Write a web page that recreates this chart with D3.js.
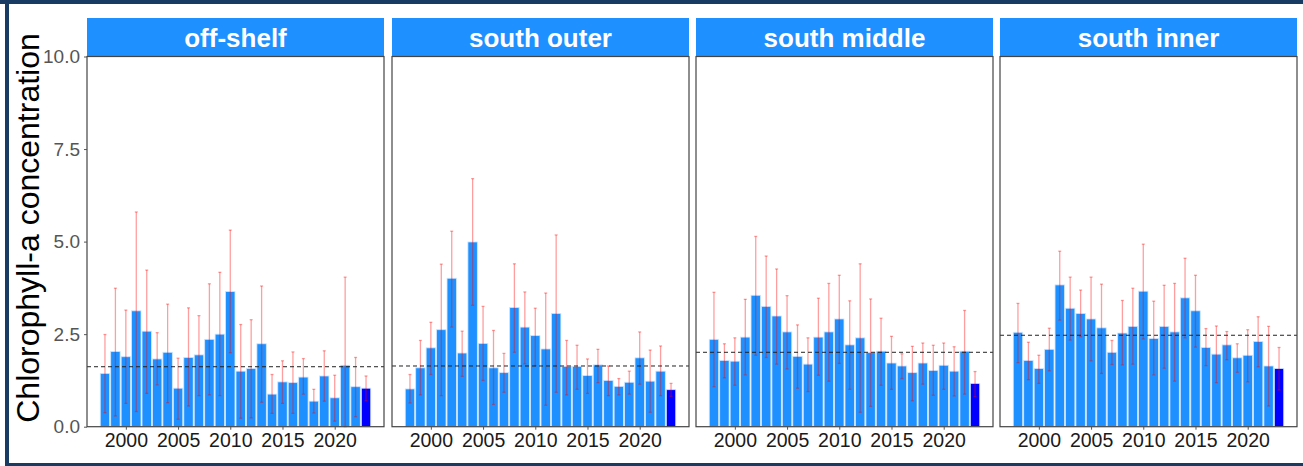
<!DOCTYPE html>
<html>
<head>
<meta charset="utf-8">
<script src="https://cdn.jsdelivr.net/npm/d3@7"></script>
<style>
  body { margin: 0; background: #fff; }
  svg { display: block; font-family: "Liberation Sans", Arial, sans-serif; }
</style>
</head>
<body>
<svg id="chart" width="1303" height="466"></svg>
<script>
// data
const years = d3.range(1998, 2024);
const regions = ["off-shelf", "south outer", "south middle", "south inner"];

const offShelf    = [1.44, 2.03, 1.89, 3.13, 2.58, 1.83, 2.01, 1.04, 1.87, 1.94, 2.36, 2.50, 3.65, 1.50, 1.57, 2.24, 0.88, 1.21, 1.19, 1.34, 0.69, 1.37, 0.78, 1.66, 1.08, 1.04];
const offShelfHi  = [2.49, 3.74, 3.15, 5.80, 4.23, 2.54, 3.31, 1.85, 3.21, 3.00, 3.86, 4.17, 5.31, 2.76, 2.89, 3.80, 1.41, 1.78, 2.02, 1.84, 1.01, 2.05, 1.39, 4.04, 1.87, 1.37];
const offShelfLo  = [0.38, 0.29, 0.63, 0.41, 0.90, 1.13, 0.65, 0.20, 0.56, 0.84, 0.86, 0.84, 2.00, 0.23, 0.24, 0.66, 0.36, 0.63, 0.36, 0.88, 0.37, 0.69, 0.15, 0.00, 0.27, 0.70];

const southOuter   = [1.02, 1.59, 2.13, 2.62, 4.01, 1.99, 4.99, 2.25, 1.59, 1.46, 3.22, 2.69, 2.46, 2.10, 3.06, 1.63, 1.63, 1.38, 1.67, 1.25, 1.09, 1.20, 1.86, 1.23, 1.50, 1.00];
const southOuterHi = [1.41, 2.33, 2.82, 4.39, 5.28, 2.58, 6.70, 3.25, 2.60, 1.98, 4.40, 3.64, 3.20, 3.61, 5.18, 2.33, 2.20, 1.83, 2.09, 1.64, 1.30, 1.50, 2.56, 2.07, 2.18, 1.17];
const southOuterLo = [0.64, 0.86, 1.41, 0.84, 2.69, 1.36, 3.28, 1.25, 0.60, 0.93, 2.01, 1.70, 1.65, 0.58, 0.93, 0.86, 1.01, 0.90, 1.19, 0.84, 0.86, 0.88, 1.15, 0.39, 0.84, 0.82];

const southMiddle   = [2.36, 1.79, 1.77, 2.42, 3.55, 3.25, 2.99, 2.56, 1.90, 1.69, 2.42, 2.56, 2.91, 2.21, 2.40, 2.00, 2.04, 1.72, 1.64, 1.46, 1.72, 1.52, 1.66, 1.50, 2.04, 1.17];
const southMiddleHi = [3.63, 2.24, 2.40, 3.44, 5.14, 4.61, 4.26, 3.54, 2.75, 2.40, 3.47, 3.87, 4.09, 3.40, 4.40, 3.45, 2.93, 2.44, 1.97, 2.17, 2.26, 2.20, 2.26, 2.16, 3.14, 1.49];
const southMiddleLo = [1.08, 1.32, 1.12, 1.40, 1.93, 1.87, 1.69, 1.56, 1.04, 0.95, 1.39, 1.23, 1.71, 1.01, 0.39, 0.55, 1.12, 1.01, 1.30, 0.70, 1.15, 0.85, 1.01, 0.83, 0.88, 0.81];

const southInner   = [2.55, 1.79, 1.57, 2.09, 3.83, 3.20, 3.06, 2.91, 2.67, 2.01, 2.53, 2.71, 3.66, 2.38, 2.71, 2.56, 3.48, 3.13, 2.14, 1.96, 2.21, 1.86, 1.93, 2.30, 1.64, 1.57];
const southInnerHi = [3.33, 2.28, 1.93, 2.66, 4.74, 4.04, 3.69, 4.04, 3.85, 2.33, 3.41, 3.74, 4.93, 3.39, 3.82, 3.87, 4.55, 4.09, 2.65, 2.72, 2.57, 2.24, 2.62, 2.97, 2.71, 2.14];
const southInnerLo = [1.73, 1.27, 1.17, 1.51, 2.88, 2.34, 2.43, 1.78, 1.44, 1.68, 1.67, 1.69, 2.37, 1.40, 1.58, 1.23, 2.40, 2.15, 1.65, 1.19, 1.81, 1.47, 1.21, 1.62, 0.56, 0.99];

const meanLines = [1.62, 1.64, 2.01, 2.47];
const yTicks = [0, 2.5, 5, 7.5, 10];
const xTicks = [2000, 2005, 2010, 2015, 2020];

const values = [offShelf, southOuter, southMiddle, southInner];
const highs = [offShelfHi, southOuterHi, southMiddleHi, southInnerHi];
const lows = [offShelfLo, southOuterLo, southMiddleLo, southInnerLo];

const svg = d3.select("#chart");

// outer frame (top, left, bottom)
svg.append("rect").attr("x", 0).attr("y", 0).attr("width", 1303).attr("height", 4).attr("fill", "#173b63");
svg.append("rect").attr("x", 5).attr("y", 0).attr("width", 4).attr("height", 466).attr("fill", "#173b63");
svg.append("rect").attr("x", 5).attr("y", 463).attr("width", 1298).attr("height", 3).attr("fill", "#173b63");

const panelLefts = [87, 392, 696, 1000];
const panelW = 297;
const stripTop = 18, plotTop = 56.5, plotBottom = 426.7;

const y = d3.scaleLinear().domain([0, 10]).range([plotBottom, plotTop]);

regions.forEach((name, p) => {
  const left = panelLefts[p];
  const x = d3.scaleLinear().domain([1996.28, 2024.72]).range([left, left + panelW]);
  const bw = x(1998.9) - x(1998);
  const g = svg.append("g");

  // strip
  g.append("rect")
    .attr("x", left).attr("y", stripTop)
    .attr("width", panelW).attr("height", plotTop - stripTop)
    .attr("fill", "#1E90FF");
  g.append("text")
    .attr("x", left + panelW / 2).attr("y", 47)
    .attr("text-anchor", "middle")
    .attr("fill", "white")
    .style("font-size", "26px").style("font-weight", "bold")
    .text(name);

  // bars
  g.selectAll("rect.bar")
    .data(years)
    .enter()
    .append("rect")
    .attr("class", "bar")
    .attr("x", d => x(d) - bw / 2)
    .attr("width", bw)
    .attr("y", (d, i) => y(values[p][i]))
    .attr("height", (d, i) => plotBottom - y(values[p][i]))
    .attr("fill", d => d === 2023 ? "#0000FF" : "#1E90FF")
    .attr("stroke", "#cfe5ff")
    .attr("stroke-width", 0.8);

  // error bars
  const eb = g.selectAll("g.err").data(years).enter().append("g")
    .attr("stroke", "red").attr("stroke-opacity", 0.38).attr("stroke-width", 1.3);
  eb.append("line")
    .attr("x1", d => x(d)).attr("x2", d => x(d))
    .attr("y1", (d, i) => y(highs[p][i])).attr("y2", (d, i) => y(lows[p][i]));
  eb.append("line")
    .attr("x1", d => x(d) - 1.5).attr("x2", d => x(d) + 1.5)
    .attr("y1", (d, i) => y(highs[p][i])).attr("y2", (d, i) => y(highs[p][i]));
  eb.append("line")
    .attr("x1", d => x(d) - 1.5).attr("x2", d => x(d) + 1.5)
    .attr("y1", (d, i) => y(lows[p][i])).attr("y2", (d, i) => y(lows[p][i]));

  // mean line
  g.append("line")
    .attr("x1", left).attr("x2", left + panelW)
    .attr("y1", y(meanLines[p])).attr("y2", y(meanLines[p]))
    .attr("stroke", "#222").attr("stroke-width", 1)
    .attr("stroke-dasharray", "4,3");

  // panel border
  g.append("rect")
    .attr("x", left).attr("y", plotTop)
    .attr("width", panelW).attr("height", plotBottom - plotTop)
    .attr("fill", "none").attr("stroke", "#444").attr("stroke-width", 1.2);

  // x axis
  const xa = g.append("g")
    .attr("transform", "translate(0," + plotBottom + ")")
    .call(d3.axisBottom(x).tickValues(xTicks).tickFormat(d3.format("d")).tickSize(3).tickPadding(3));
  xa.select(".domain").remove();
  xa.selectAll("line").attr("stroke", "#555");
  xa.selectAll("text").attr("fill", "#1a1a1a").style("font-size", "19.5px")
    .style("font-family", "'Liberation Sans', Arial, sans-serif");

  // y axis on first panel only
  if (p === 0) {
    const ya = g.append("g")
      .attr("transform", "translate(" + left + ",0)")
      .call(d3.axisLeft(y).tickValues(yTicks).tickFormat(d3.format(".1f")).tickSize(3).tickPadding(4));
    ya.select(".domain").remove();
    ya.selectAll("line").attr("stroke", "#555");
    ya.selectAll("text").attr("fill", "#555").style("font-size", "19px")
      .style("font-family", "'Liberation Sans', Arial, sans-serif");
  }
});

// y title
svg.append("text")
  .attr("transform", "translate(39,228) rotate(-90)")
  .attr("text-anchor", "middle")
  .attr("fill", "black")
  .style("font-size", "32px")
  .text("Chlorophyll-a concentration");
</script>
</body>
</html>
